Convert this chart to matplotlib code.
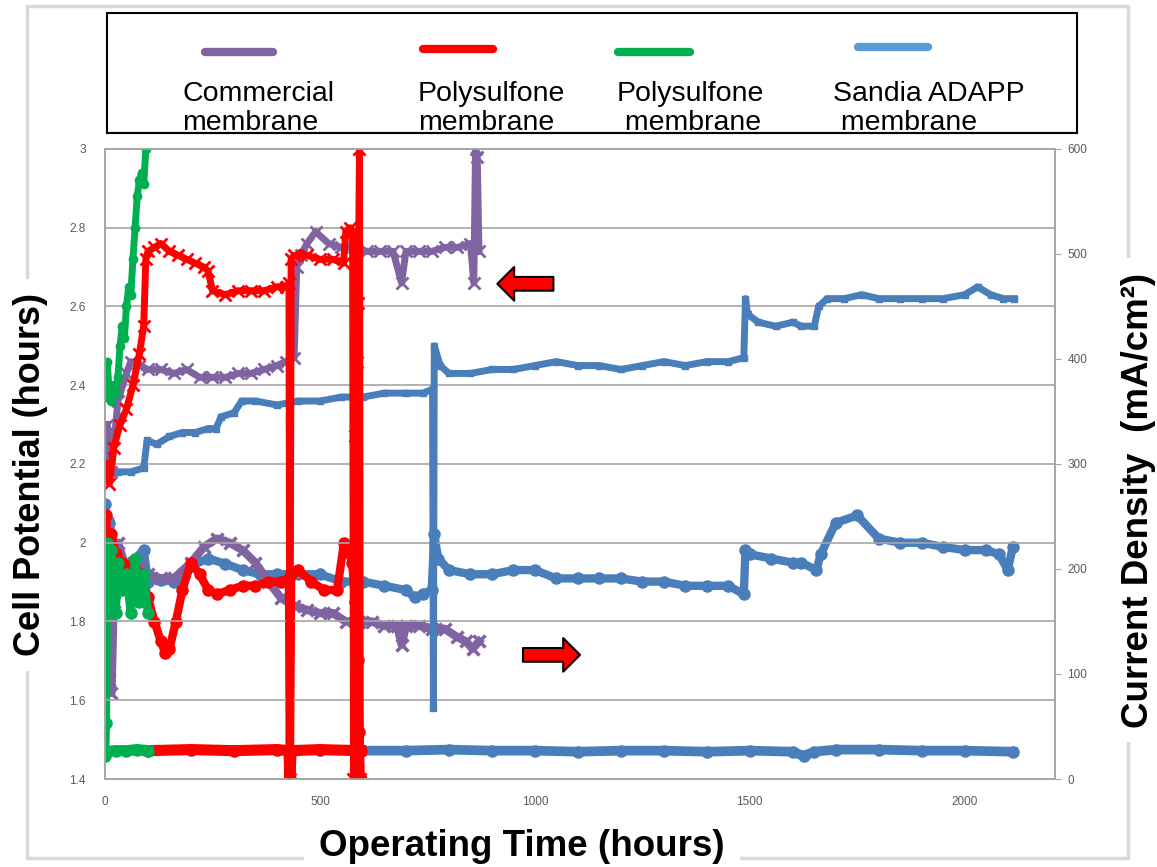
import matplotlib
matplotlib.use('Agg')
import matplotlib.pyplot as plt
from matplotlib.lines import Line2D
from matplotlib.patches import Rectangle

plt.rcParams['font.family'] = ['Liberation Sans', 'DejaVu Sans']

# Commercial membrane
comm_t_pot = [5, 15, 30, 50, 60, 80, 100, 130, 160, 190, 220, 250, 280, 310, 340, 370, 400, 420, 440, 446,
              455, 470, 490, 520, 550, 580, 610, 640, 670, 690, 700, 730, 760, 790, 820, 850, 858, 862, 866, 870]
comm_pot = [2.30, 2.18, 2.36, 2.43, 2.46, 2.45, 2.44, 2.44, 2.43, 2.44, 2.42, 2.42, 2.42, 2.43, 2.43, 2.44, 2.45, 2.46, 2.47, 2.70,
            2.73, 2.76, 2.79, 2.76, 2.75, 2.75, 2.74, 2.74, 2.74, 2.66, 2.74, 2.74, 2.74, 2.75, 2.75, 2.76, 2.66, 3.00, 2.98, 2.74]
comm_t_cd = [5, 10, 15, 20, 30, 45, 60, 80, 100, 130, 160, 200, 230, 260, 290, 320, 350, 380, 410, 440,
             470, 500, 530, 560, 590, 620, 650, 680, 690, 700, 730, 760, 790, 820, 840, 855, 870]
comm_cd = [244, 94, 82, 169, 225, 206, 199, 202, 195, 191, 191, 206, 221, 229, 225, 218, 206, 188, 172, 165,
           161, 158, 158, 150, 150, 150, 146, 146, 128, 146, 146, 143, 143, 135, 131, 124, 131]

# Polysulfone membrane (red)
poly_t_pot = [0, 10, 20, 35, 50, 65, 80, 90, 95, 100, 115, 130, 150, 170, 190, 210, 230, 240, 250, 280,
              310, 340, 370, 400, 420, 428, 430, 433, 440, 470, 500, 530, 555, 560, 570, 576, 578, 582, 586, 589,
              592, 594]
poly_pot = [2.20, 2.15, 2.24, 2.30, 2.34, 2.40, 2.48, 2.55, 2.72, 2.74, 2.75, 2.76, 2.74, 2.73, 2.72, 2.71, 2.70, 2.69, 2.64, 2.63,
            2.64, 2.64, 2.64, 2.65, 2.65, 2.66, 1.40, 2.72, 2.73, 2.73, 2.72, 2.72, 2.71, 2.79, 2.80, 2.79, 1.40, 2.27, 2.46, 2.61,
            3.00, 1.40]
poly_t_cd = [2, 8, 15, 25, 40, 55, 70, 85, 100, 115, 130, 140, 150, 165, 180, 200, 220, 240, 260, 290,
             320, 350, 380, 410, 428, 430, 433, 450, 480, 510, 540, 556, 565, 575, 582, 588, 592, 595]
poly_cd = [251, 206, 233, 214, 206, 203, 199, 195, 173, 150, 131, 120, 124, 150, 180, 206, 195, 180, 176, 180,
           184, 184, 188, 188, 191, 0, 195, 199, 188, 180, 180, 225, 218, 206, 169, 113, 45, 0]
poly_t_low = [100, 200, 300, 400, 428, 430, 433, 500, 590, 595]
poly_low = [27, 28, 27, 28, 27, 0, 27, 28, 27, 27]

# Polysulfone membrane (green)
sep_t_pot = [0, 5, 10, 15, 20, 25, 30, 35, 40, 45, 50, 55, 60, 65, 70, 75, 80, 85, 90, 95]
sep_pot = [2.37, 2.46, 2.38, 2.36, 2.40, 2.38, 2.42, 2.50, 2.55, 2.52, 2.60, 2.65, 2.63, 2.72, 2.80, 2.88, 2.92, 2.94, 2.91, 3.00]
sep_t_cd = [0, 2, 5, 10, 15, 20, 25, 30, 40, 50, 60, 70, 80, 90, 100]
sep_cd = [22, 53, 225, 169, 218, 188, 158, 206, 180, 195, 158, 210, 169, 195, 158]
sep_t_low = [0, 25, 50, 75, 100]
sep_low = [26, 27, 27, 28, 27]

# Sandia ADAPP membrane
sandia_t_pot = [2, 10, 30, 60, 90, 98, 120, 150, 180, 210, 240, 258, 270, 300, 318, 350, 400, 450, 500, 550,
                600, 650, 700, 740, 762, 764, 766, 780, 800, 850, 900, 950, 1000, 1050, 1100, 1150, 1200, 1250, 1300, 1350,
                1400, 1450, 1486, 1490, 1495, 1520, 1560, 1600, 1620, 1650, 1660, 1680, 1720, 1760, 1800, 1850, 1900, 1950,
                2000, 2030, 2060, 2090, 2115]
sandia_pot = [2.30, 2.18, 2.18, 2.18, 2.19, 2.26, 2.25, 2.27, 2.28, 2.28, 2.29, 2.29, 2.32, 2.33, 2.36, 2.36, 2.35, 2.36, 2.36, 2.37,
              2.37, 2.38, 2.38, 2.38, 2.39, 1.58, 2.50, 2.45, 2.43, 2.43, 2.44, 2.44, 2.45, 2.46, 2.45, 2.45, 2.44, 2.45, 2.46, 2.45,
              2.46, 2.46, 2.47, 2.62, 2.58, 2.56, 2.55, 2.56, 2.55, 2.55, 2.60, 2.62, 2.62, 2.63, 2.62, 2.62, 2.62, 2.62,
              2.63, 2.65, 2.63, 2.62, 2.62]
sandia_t_cd = [0, 5, 10, 20, 40, 60, 90, 100, 130, 160, 200, 240, 280, 320, 360, 400, 450, 500, 550, 600,
               650, 700, 720, 740, 760, 766, 775, 800, 850, 900, 950, 1000, 1050, 1100, 1150, 1200, 1250, 1300, 1350, 1400,
               1450, 1486, 1490, 1500, 1550, 1600, 1620, 1655, 1665, 1700, 1750, 1800, 1850, 1900, 1950, 2000, 2050, 2080, 2100, 2112]
sandia_cd = [262, 206, 244, 218, 195, 206, 218, 188, 190, 188, 203, 210, 205, 199, 195, 195, 195, 195, 188, 188,
             184, 180, 173, 176, 180, 233, 210, 199, 195, 195, 199, 199, 191, 191, 191, 191, 188, 188, 184, 184,
             184, 176, 218, 214, 210, 206, 206, 199, 214, 244, 251, 229, 225, 225, 221, 218, 218, 214, 199, 221]
sandia_t_low = [595, 700, 800, 900, 1000, 1100, 1200, 1300, 1400, 1500, 1600, 1625, 1650, 1700, 1800, 1900, 2000, 2112]
sandia_low = [27, 27, 28, 27, 27, 26, 27, 27, 26, 27, 26, 22, 26, 28, 28, 27, 27, 26]

legend_labels = ['Commercial\nmembrane', 'Polysulfone\nmembrane', 'Polysulfone\n membrane', 'Sandia ADAPP\n membrane']

purple = '#8064a2'
red = '#ff0000'
green = '#00b050'
blue = '#4a7ebb'

W, H = 1157, 867
fig = plt.figure(figsize=(W / 100, H / 100), dpi=100)
ax = fig.add_axes([105 / W, 1 - 779 / H, 950 / W, 630 / H])
ax2 = ax.twinx()

def fx(px):
    return px / W

def fy(py):
    return 1 - py / H

# current density on the right axis
ax2.plot(sandia_t_cd, sandia_cd, color=blue, lw=6, marker='o', ms=8)
ax2.plot(sandia_t_low, sandia_low, color=blue, lw=7, marker='o', ms=8)
ax2.plot(comm_t_cd, comm_cd, color=purple, lw=6, marker='x', ms=8, mew=2.5)
ax2.plot(poly_t_cd, poly_cd, color=red, lw=6, marker='o', ms=8)
ax2.plot(poly_t_low, poly_low, color=red, lw=8, marker='o', ms=8)
ax2.plot(sep_t_cd, sep_cd, color=green, lw=6, marker='o', ms=8)
ax2.plot(sep_t_low, sep_low, color=green, lw=8, marker='o', ms=8)

# cell potential on the left axis
ax.plot(sandia_t_pot, sandia_pot, color=blue, lw=5, marker='s', ms=5)
ax.plot(comm_t_pot, comm_pot, color=purple, lw=5, marker='x', ms=8, mew=2)
ax.plot(poly_t_pot, poly_pot, color=red, lw=5, marker='x', ms=9, mew=2)
ax.plot(sep_t_pot, sep_pot, color=green, lw=5, marker='o', ms=6)

ax.set_zorder(ax2.get_zorder() + 1)
ax.patch.set_visible(False)

ax.set_xlim(0, 2210)
ax.set_ylim(1.4, 3.0)
ax.set_yticks([1.4, 1.6, 1.8, 2.0, 2.2, 2.4, 2.6, 2.8, 3.0])
ax.set_yticklabels(['1.4', '1.6', '1.8', '2', '2.2', '2.4', '2.6', '2.8', '3'])
ax.set_xticks([0, 500, 1000, 1500, 2000])
ax2.set_ylim(0, 600)
ax2.set_yticks([0, 100, 200, 300, 400, 500, 600])

ax.grid(axis='y', color='#a6a6a6', lw=1.2)
ax.set_axisbelow(True)
for a in (ax, ax2):
    for s in a.spines.values():
        s.set_color('#a6a6a6')
        s.set_linewidth(1.2)
ax.tick_params(axis='both', length=0, labelsize=8.5, labelcolor='#595959', pad=14)
ax.tick_params(axis='x', pad=12)
ax2.tick_params(axis='y', length=4, color='#a6a6a6', labelsize=8.5, labelcolor='#595959', pad=5)

# outer frame
fig.patches.append(Rectangle((fx(27), fy(858)), fx(1128) - fx(27), fy(6) - fy(858),
                             transform=fig.transFigure, fill=False, ec='#d9d9d9', lw=2.5, zorder=0))

# legend box, its bottom edge runs over the second text line
fig.patches.append(Rectangle((fx(107), fy(133)), fx(1077) - fx(107), fy(13) - fy(133),
                             transform=fig.transFigure, fc='white', ec='black', lw=1.5, zorder=1))
fig.lines.append(Line2D([fx(107), fx(1077)], [fy(133), fy(133)], transform=fig.transFigure,
                        color='black', lw=1.5, zorder=3))
legend_colors = [purple, red, green, '#5b9bd5']
line_x = [(205, 273), (423, 493), (618, 690), (858, 928)]
line_y = [52, 49, 52, 47]
text_x = [182, 418, 617, 833]
for lab, c, (x0, x1), yl, xt in zip(legend_labels, legend_colors, line_x, line_y, text_x):
    fig.lines.append(Line2D([fx(x0), fx(x1)], [fy(yl), fy(yl)], transform=fig.transFigure,
                            color=c, lw=6, solid_capstyle='round', zorder=2))
    fig.text(fx(xt), fy(81), lab, fontsize=20.5, va='top', ha='left', linespacing=1.17, zorder=2)

# arrows
arrow_style = 'simple,head_length=0.55,head_width=1.1,tail_width=0.45'
ax.annotate('', xy=(0.413, 0.786), xytext=(0.472, 0.786), xycoords='axes fraction',
            arrowprops=dict(arrowstyle=arrow_style, mutation_scale=22, fc='red', ec='black',
                            lw=1.5, shrinkA=0, shrinkB=0))
ax.annotate('', xy=(0.5, 0.197), xytext=(0.44, 0.197), xycoords='axes fraction',
            arrowprops=dict(arrowstyle=arrow_style, mutation_scale=22, fc='red', ec='black',
                            lw=1.5, shrinkA=0, shrinkB=0))

# axis titles
box = dict(boxstyle='square,pad=0.4', fc='white', ec='none')
fig.text(fx(522), fy(847), 'Operating Time (hours)', fontsize=26.5, fontweight='bold',
         ha='center', va='center', bbox=box, zorder=3)
fig.text(fx(31), fy(475), 'Cell Potential (hours)', fontsize=26, fontweight='bold',
         rotation=90, ha='center', va='center', bbox=box, zorder=3)
fig.text(fx(1139), fy(500), 'Current Density  (mA/cm\u00b2)', fontsize=26.5, fontweight='bold',
         rotation=90, ha='center', va='center', bbox=box, zorder=3)

fig.savefig('out.png', dpi=100)
